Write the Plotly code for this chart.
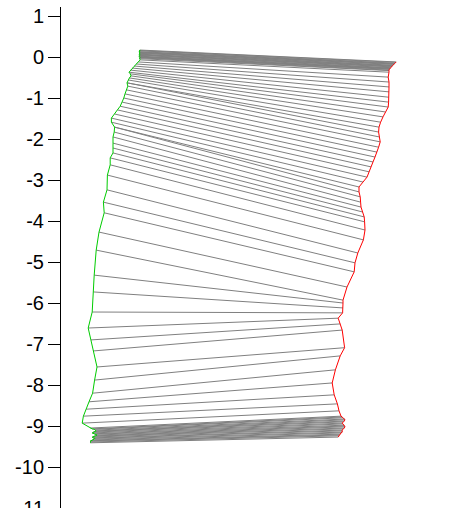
import plotly.graph_objects as go

# Tie points between the two profiles: each tie joins a sample on the left
# profile (left_x, left_z) with its matched sample on the right profile.
left_z = [
    # top cluster
    0.17, 0.16, 0.15, 0.13, 0.12, 0.11, 0.10, 0.09, 0.07, 0.06, 0.05, 0.04,
    0.02, 0.01, 0.00, -0.01, -0.02, -0.04,
    # upper section
    -0.07, -0.12, -0.17, -0.22, -0.27, -0.32, -0.37, -0.41, -0.46, -0.51,
    -0.56, -0.63, -0.63, -0.71, -0.80, -0.90, -1.00, -1.10, -1.20, -1.29,
    -1.39, -1.49, -1.59, -1.71, -1.71, -1.83, -1.95, -2.10, -2.22, -2.34,
    -2.46, -2.63, -2.88, -3.24, -3.54, -3.80, -4.27, -4.71,
    # middle section
    -5.32, -5.73, -6.22, -6.61,
    # lower section
    -6.90, -7.17, -7.56, -7.88, -8.20, -8.41, -8.59, -8.76, -8.93,
    # bottom cluster
    -9.05, -9.07, -9.08, -9.10, -9.12, -9.13, -9.15, -9.17, -9.19, -9.20, -9.22,
    -9.24, -9.25, -9.27, -9.29, -9.30, -9.32, -9.34, -9.36, -9.37, -9.39, -9.41,
]
left_x = [
    1.98, 1.96, 1.98, 1.95, 1.95, 1.96, 1.98, 1.96, 1.95, 1.96, 1.98, 1.96,
    1.95, 1.96, 1.96, 1.98, 1.96, 1.97,
    1.98, 1.93, 1.88, 1.83, 1.78, 1.74, 1.70, 1.73, 1.75, 1.71,
    1.68, 1.65, 1.65, 1.67, 1.63, 1.60, 1.57, 1.53, 1.48, 1.41,
    1.34, 1.26, 1.26, 1.34, 1.34, 1.33, 1.30, 1.30, 1.30, 1.30,
    1.23, 1.23, 1.16, 1.15, 1.06, 1.08, 0.95, 0.88,
    0.83, 0.81, 0.78, 0.68,
    0.75, 0.80, 0.90, 0.84, 0.79, 0.70, 0.63, 0.56, 0.53,
    0.73, 0.78, 0.83, 0.86, 0.88, 0.85, 0.80, 0.78, 0.83, 0.88, 0.90,
    0.86, 0.82, 0.78, 0.80, 0.85, 0.83, 0.78, 0.74, 0.73, 0.75, 0.73,
]
right_z = [
    -0.12, -0.13, -0.15, -0.16, -0.17, -0.18, -0.20, -0.21, -0.22, -0.23, -0.24, -0.26,
    -0.27, -0.28, -0.29, -0.30, -0.32, -0.33,
    -0.37, -0.49, -0.61, -0.73, -0.85, -0.98, -1.10, -1.22, -1.34, -1.46,
    -1.59, -1.71, -1.83, -1.95, -2.07, -2.20, -2.32, -2.44, -2.56, -2.68,
    -2.80, -2.93, -3.05, -3.17, -3.29, -3.41, -3.54, -3.66, -3.78, -3.90,
    -4.02, -4.22, -4.46, -4.78, -5.02, -5.24, -5.61, -5.93,
    -6.00, -6.12, -6.24, -6.37,
    -6.51, -6.66, -7.09, -7.29, -7.63, -7.95, -8.24, -8.46, -8.63,
    -8.76, -8.78, -8.80, -8.83, -8.85, -8.88, -8.90, -8.93, -8.95, -8.98, -9.00,
    -9.02, -9.05, -9.07, -9.10, -9.12, -9.15, -9.17, -9.20, -9.22, -9.24, -9.27,
]
right_x = [
    8.38, 8.36, 8.35, 8.34, 8.33, 8.31, 8.30, 8.29, 8.28, 8.27, 8.25, 8.24,
    8.23, 8.22, 8.21, 8.21, 8.20, 8.20,
    8.20, 8.18, 8.20, 8.20, 8.20, 8.19, 8.19, 8.18, 8.11, 8.05,
    7.99, 7.95, 7.94, 7.96, 7.98, 7.94, 7.90, 7.85, 7.80, 7.75,
    7.70, 7.65, 7.55, 7.45, 7.45, 7.48, 7.49, 7.50, 7.54, 7.58,
    7.59, 7.60, 7.56, 7.42, 7.35, 7.33, 7.15, 7.05,
    7.05, 7.05, 7.04, 6.93,
    6.98, 7.03, 7.09, 6.98, 6.86, 6.78, 6.83, 6.91, 6.95,
    7.00, 7.03, 7.05, 7.10, 7.10, 7.08, 7.05, 7.03, 7.05, 7.08, 7.10,
    7.10, 7.08, 7.05, 7.03, 7.03, 7.03, 7.00, 6.98, 6.95, 6.95, 6.93,
]

y_ticks = list(range(-11, 2))

# Tie lines as one trace, segments separated by gaps
tie_x, tie_y = [], []
for xl, zl, xr, zr in zip(left_x, left_z, right_x, right_z):
    tie_x += [xl, xr, None]
    tie_y += [zl, zr, None]

fig = go.Figure()
fig.add_trace(go.Scatter(
    x=tie_x, y=tie_y, mode="lines",
    line=dict(color="#808080", width=1), hoverinfo="skip", showlegend=False,
))
fig.add_trace(go.Scatter(
    x=left_x, y=left_z, mode="lines",
    line=dict(color="#00cc00", width=1), showlegend=False,
))
fig.add_trace(go.Scatter(
    x=right_x, y=right_z, mode="lines",
    line=dict(color="#ff0000", width=1), showlegend=False,
))

fig.update_layout(
    width=467, height=508,
    margin=dict(l=61, r=0, t=7, b=0),
    paper_bgcolor="white", plot_bgcolor="white",
    xaxis=dict(visible=False, range=[0, 10.15]),
    yaxis=dict(
        range=[-11.0, 1.22], automargin=False,
        tickmode="array", tickvals=y_ticks, ticktext=[str(v) for v in y_ticks],
        ticks="outside", ticklen=12, tickwidth=1, tickcolor="black",
        showline=True, linecolor="black", linewidth=1,
        showgrid=False, zeroline=False, ticklabeloverflow="allow",
        tickfont=dict(family="Liberation Sans, Arial, sans-serif", size=20, color="black"),
    ),
)

fig.write_html("out.html")
